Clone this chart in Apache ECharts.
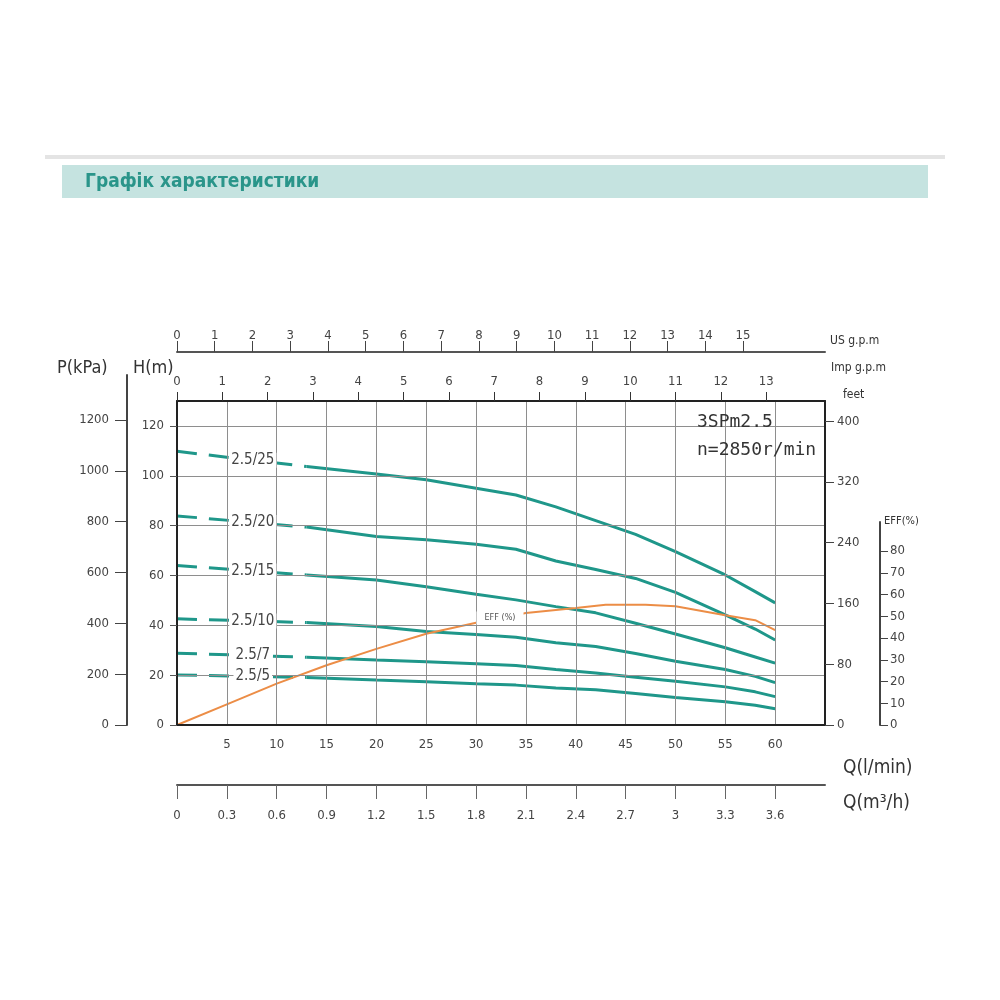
<!DOCTYPE html>
<html>
<head>
<meta charset="utf-8">
<title>3SPm2.5</title>
<script src="https://cdn.jsdelivr.net/npm/echarts@6/dist/echarts.min.js"></script>
<style>
html, body { margin: 0; padding: 0; background: #fff; }
#pump-chart { width: 1000px; height: 1000px; }
</style>
</head>
<body>
<div id="pump-chart"></div>
<script>
// Q (l/min) where the head curves were read
var qHead = [0, 13, 20, 25, 30, 34, 38, 42, 46, 50, 55, 58, 60];
// head H (m), first two points are the dashed part
var head25 = [109.8, 103.7, 100.7, 98.4, 95.0, 92.3, 87.5, 82.0, 76.5, 69.6, 60.2, 53.5, 49.0];
var head20 = [83.9, 79.4, 75.6, 74.3, 72.5, 70.5, 65.8, 62.4, 58.8, 53.2, 44.2, 38.5, 34.1];
var head15 = [64.0, 60.2, 58.2, 55.5, 52.5, 50.2, 47.5, 45.0, 40.8, 36.5, 31.0, 27.3, 24.8];
var head10 = [42.6, 41.1, 39.5, 37.5, 36.3, 35.2, 33.0, 31.5, 28.7, 25.6, 22.3, 19.5, 17.0];
var head7 = [28.8, 27.2, 26.1, 25.4, 24.6, 23.9, 22.3, 20.9, 19.2, 17.6, 15.3, 13.3, 11.4];
var head5 = [20.1, 19.1, 18.1, 17.4, 16.6, 16.0, 14.8, 14.1, 12.6, 11.0, 9.3, 7.9, 6.5];
var modelNames = ['2.5/25', '2.5/20', '2.5/15', '2.5/10', '2.5/7', '2.5/5'];
var heads = [head25, head20, head15, head10, head7, head5];

// efficiency curve
var qEff = [0, 5, 10, 15, 20, 25, 30, 35, 40, 43, 47, 50, 55, 58, 60];
var eff = [0, 9.5, 19, 27.5, 35, 42, 47, 51.5, 53.8, 55.3, 55.3, 54.6, 50.5, 48.2, 43.6];

// tick labels
var qTicks = [5, 10, 15, 20, 25, 30, 35, 40, 45, 50, 55, 60];
var m3hTicks = [0, 0.3, 0.6, 0.9, 1.2, 1.5, 1.8, 2.1, 2.4, 2.7, 3, 3.3, 3.6];
var usTicks = [0, 1, 2, 3, 4, 5, 6, 7, 8, 9, 10, 11, 12, 13, 14, 15];
var impTicks = [0, 1, 2, 3, 4, 5, 6, 7, 8, 9, 10, 11, 12, 13];
var hTicks = [0, 20, 40, 60, 80, 100, 120];
var pTicks = [0, 200, 400, 600, 800, 1000, 1200];
var feetTicks = [0, 80, 160, 240, 320, 400];
var effTicks = [0, 10, 20, 30, 40, 50, 60, 70, 80];

var qMax = 65, hMax = 130, effMax = 149;
var TEAL = '#1f978a', ORANGE = '#ec8d46', GRID = '#8e8e8e';
var FONT = '"Liberation Sans Narrow", "DejaVu Sans Condensed", sans-serif';
var lbl = { color: '#444', fontSize: 13, fontFamily: FONT,
  formatter: function (v) { return String(Math.round(v * 10) / 10); } };

var myChart = echarts.init(document.getElementById('pump-chart'));

var series = [];
heads.forEach(function (h, i) {
  var pts = qHead.map(function (q, k) { return [q, h[k]]; });
  var labelQ = 7.6;
  var labelH = h[0] + (h[1] - h[0]) * labelQ / qHead[1];
  //虚线部分
  series.push({
    type: 'line', xAxisIndex: 0, yAxisIndex: 0,
    data: pts.slice(0, 2), showSymbol: false, silent: true,
    lineStyle: { color: TEAL, width: 3, type: [20, 12] },
    markPoint: {
      symbol: 'rect', symbolSize: 1, silent: true,
      itemStyle: { color: 'rgba(0,0,0,0)' },
      label: {
        show: true, position: 'inside', formatter: modelNames[i],
        color: '#444', fontSize: 15, fontFamily: FONT,
        backgroundColor: '#fff', padding: [0, 2]
      },
      data: [{ coord: [labelQ, labelH] }]
    }
  });
  //实线部分
  var solid = {
    type: 'line', xAxisIndex: 0, yAxisIndex: 0,
    data: pts.slice(1), showSymbol: false, silent: true,
    lineStyle: { color: TEAL, width: 3 }
  };
  if (i === 0) {
    solid.markArea = {
      silent: true,
      itemStyle: { color: '#fff' },
      data: [[{ coord: [50.15, 100.2] }, { coord: [qMax, hMax] }]]
    };
  }
  series.push(solid);
});

series.push({
  type: 'line', xAxisIndex: 0, yAxisIndex: 2,
  data: qEff.map(function (q, k) { return [q, eff[k]]; }),
  showSymbol: false, silent: true, z: 3,
  lineStyle: { color: ORANGE, width: 2 },
  markPoint: {
    symbol: 'rect', symbolSize: 1, silent: true,
    itemStyle: { color: 'rgba(0,0,0,0)' },
    label: {
      show: true, position: 'inside', formatter: 'EFF (%)',
      color: '#555', fontSize: 9, fontFamily: FONT,
      backgroundColor: '#fff', padding: [2, 8]
    },
    data: [{ coord: [32.4, 49.2] }]
  }
});

function txt(x, y, text, size, extra) {
  var s = { text: text, fill: '#333', font: size + 'px ' + FONT, verticalAlign: 'middle' };
  if (extra) { for (var k in extra) s[k] = extra[k]; }
  return { type: 'text', x: x, y: y, z: 20, style: s };
}

var options = {
  animation: false,
  backgroundColor: '#fff',
  grid: [
    { left: 177, top: 401, width: 648, height: 324 },
    { left: 127, top: 375, width: 10, height: 350 },
    { left: 880, top: 522, width: 10, height: 203 }
  ],
  xAxis: [
    { //Q l/min
      gridIndex: 0, type: 'value', position: 'bottom', min: 0, max: qMax, interval: 5, z: 5,
      axisLine: { onZero: false, lineStyle: { color: '#222', width: 2 } },
      axisTick: { show: false },
      axisLabel: Object.assign({ margin: 13, customValues: qTicks }, lbl),
      splitLine: { show: true, lineStyle: { color: GRID, width: 1 } }
    },
    { //Q m3/h
      gridIndex: 0, type: 'value', position: 'bottom', offset: 60, min: 0, max: qMax * 0.06,
      axisLine: { onZero: false, lineStyle: { color: '#555', width: 2 } },
      axisTick: { length: 14, customValues: m3hTicks, lineStyle: { color: '#666' } },
      axisLabel: Object.assign({ margin: 24, customValues: m3hTicks }, lbl),
      splitLine: { show: false }
    },
    { //Imp g.p.m
      gridIndex: 0, type: 'value', position: 'top', min: 0, max: qMax / 4.54609, z: 5,
      axisLine: { onZero: false, lineStyle: { color: '#222', width: 2 } },
      axisTick: { length: 9, customValues: impTicks, lineStyle: { color: '#333' } },
      axisLabel: Object.assign({ margin: 13, customValues: impTicks }, lbl),
      splitLine: { show: false }
    },
    { //US g.p.m
      gridIndex: 0, type: 'value', position: 'top', offset: 49, min: 0, max: qMax / 3.78541,
      axisLine: { onZero: false, lineStyle: { color: '#555', width: 2 } },
      axisTick: { length: 11, customValues: usTicks, lineStyle: { color: '#444' } },
      axisLabel: Object.assign({ margin: 10, customValues: usTicks }, lbl),
      splitLine: { show: false }
    },
    { gridIndex: 1, type: 'value', show: false },
    { gridIndex: 2, type: 'value', show: false }
  ],
  yAxis: [
    { //H m
      gridIndex: 0, type: 'value', position: 'left', min: 0, max: hMax, interval: 20, z: 5,
      axisLine: { onZero: false, lineStyle: { color: '#222', width: 2 } },
      axisTick: { length: 7, customValues: hTicks, lineStyle: { color: '#555' } },
      axisLabel: Object.assign({ margin: 13, customValues: hTicks }, lbl),
      splitLine: { show: true, lineStyle: { color: GRID, width: 1 } }
    },
    { //feet
      gridIndex: 0, type: 'value', position: 'right', min: 0, max: hMax * 3.28084, z: 5,
      axisLine: { onZero: false, lineStyle: { color: '#222', width: 2 } },
      axisTick: { length: 9, customValues: feetTicks, lineStyle: { color: '#444' } },
      axisLabel: Object.assign({ margin: 12, customValues: feetTicks }, lbl),
      splitLine: { show: false }
    },
    { //EFF data axis
      gridIndex: 0, type: 'value', min: 0, max: effMax, show: false
    },
    { //P kPa
      gridIndex: 1, type: 'value', position: 'left', min: 0, max: hMax * 9.80665 * 350 / 324,
      axisLine: { onZero: false, lineStyle: { color: '#444', width: 2 } },
      axisTick: { length: 12, customValues: pTicks, lineStyle: { color: '#444' } },
      axisLabel: Object.assign({ margin: 18, customValues: pTicks }, lbl),
      splitLine: { show: false }
    },
    { //EFF scale
      gridIndex: 2, type: 'value', position: 'left', min: 0, max: effMax * 203 / 324,
      axisLine: { onZero: false, lineStyle: { color: '#444', width: 2 } },
      axisTick: { inside: true, length: 8, customValues: effTicks, lineStyle: { color: '#444' } },
      axisLabel: Object.assign({ inside: true, margin: 10, customValues: effTicks }, lbl),
      splitLine: { show: false }
    }
  ],
  graphic: {
    elements: [
      { type: 'rect', shape: { x: 45, y: 155, width: 900, height: 4 }, style: { fill: '#e4e4e4' } },
      { type: 'rect', shape: { x: 62, y: 165, width: 866, height: 33 }, style: { fill: '#c5e3e0' } },
      { type: 'text', x: 85, y: 182, style: { text: 'Графік характеристики', fill: '#2a958a',
        font: 'bold 19px "DejaVu Sans Condensed", sans-serif', verticalAlign: 'middle' } },
      txt(57, 368, 'P(kPa)', 18),
      txt(133, 368, 'H(m)', 18),
      txt(830, 341, 'US g.p.m', 12),
      txt(831, 368, 'Imp g.p.m', 12),
      txt(843, 395, 'feet', 12),
      txt(884, 521, 'EFF(%)', 11),
      txt(843, 768, 'Q(l/min)', 19),
      txt(843, 803, 'Q(m³/h)', 19),
      { type: 'text', x: 697, y: 422, z: 20, style: { text: '3SPm2.5', fill: '#333',
        font: '18px "DejaVu Sans Mono", monospace', verticalAlign: 'middle' } },
      { type: 'text', x: 697, y: 450, z: 20, style: { text: 'n=2850r/min', fill: '#333',
        font: '18px "DejaVu Sans Mono", monospace', verticalAlign: 'middle' } }
    ]
  },
  series: series
};

myChart.setOption(options);
</script>
</body>
</html>
